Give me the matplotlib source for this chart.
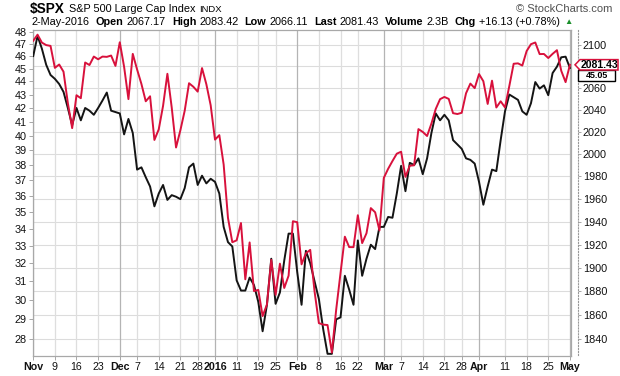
import numpy as np
import pandas as pd
import matplotlib
matplotlib.use("Agg")
import matplotlib.pyplot as plt
from matplotlib.ticker import FixedLocator, FixedFormatter, NullLocator
from matplotlib.transforms import blended_transform_factory, IdentityTransform
from matplotlib.patches import Polygon
from matplotlib.lines import Line2D

plt.rcParams['font.family'] = ['Liberation Sans', 'DejaVu Sans']

# ---------------- data ----------------
holidays = ['2015-11-26', '2015-12-25', '2016-01-01', '2016-01-18', '2016-02-15', '2016-03-25']
dates = pd.bdate_range('2015-11-02', '2016-05-02')
dates = dates[~dates.isin(pd.to_datetime(holidays))]

# $SPX close (red, right axis)
spx = [2104.05, 2109.79, 2102.31, 2099.93, 2099.20, 2078.58, 2081.72, 2075.00, 2045.97, 2023.04,
       2053.19, 2050.44, 2083.58, 2081.24, 2089.17, 2086.59, 2089.14, 2088.87, 2090.11, 2080.41,
       2102.63, 2079.51, 2049.62, 2091.69, 2077.07, 2063.59, 2047.62, 2052.23, 2012.37, 2021.94,
       2043.41, 2073.07, 2041.89, 2005.55, 2021.15, 2038.97, 2064.29, 2060.99, 2056.50, 2078.36,
       2063.36, 2043.94,
       2012.66, 2016.71, 1990.26, 1943.09, 1922.03, 1923.67, 1938.68, 1890.28, 1921.84, 1880.33,
       1881.33, 1859.33, 1868.99, 1906.90, 1877.08, 1903.63, 1882.95, 1893.36, 1940.24,
       1939.38, 1903.03, 1912.53, 1915.45, 1880.05, 1853.44, 1852.21, 1851.86, 1829.08, 1864.78,
       1895.58, 1926.82, 1917.83, 1917.78, 1945.50, 1921.27, 1929.80, 1951.70, 1948.05, 1932.23,
       1978.35, 1986.45, 1993.40, 1999.99, 2001.76, 1979.26, 1989.26, 1989.57, 2022.19, 2019.64,
       2015.93, 2027.22, 2040.59, 2049.58, 2051.60, 2049.80, 2036.71, 2035.94, 2037.05, 2055.01,
       2063.95, 2059.74,
       2072.78, 2066.13, 2045.17, 2066.66, 2041.91, 2047.60, 2041.99, 2061.72, 2082.42, 2082.78,
       2080.73, 2094.34, 2100.80, 2102.40, 2091.48, 2091.58, 2087.79, 2091.70, 2095.15, 2075.81,
       2065.30,
       2081.43]

# comparison series (black, left axis)
black = [46.0, 47.65, 46.6, 45.3, 44.5, 44.2, 43.8, 43.2, 42.0, 40.75,
         42.0, 41.1, 42.0, 41.8, 41.5, 42.0, 42.55, 43.15, 41.8, 41.7,
         41.6, 40.1, 41.2, 40.2, 37.7, 37.85, 37.2, 36.6, 35.35, 36.15,
         36.7, 35.75, 36.05, 35.95, 35.8, 36.5, 37.85, 38.1, 36.7, 37.3,
         36.8, 37.1,
         36.9, 36.15, 34.1, 33.2, 32.95, 31.05, 30.5, 30.5, 31.2, 30.8,
         29.9, 28.4, 29.75, 32.25, 29.8, 30.4, 32.15, 33.7, 33.7,
         31.5, 29.75, 32.7, 32.0, 31.0, 30.05, 28.5, 27.3, 27.3, 29.0,
         29.1, 31.3, 30.55, 29.75, 33.3, 31.3, 32.25, 33.05, 32.8, 34.1,
         34.1, 34.7, 34.65, 36.15, 37.95, 36.3, 38.15, 38.0, 38.45, 37.4,
         38.45, 40.2, 41.6, 41.1, 41.5, 41.1, 39.7, 39.4, 39.1, 38.45,
         38.35, 38.1,
         36.9, 35.45, 36.6, 37.7, 37.6, 39.7, 41.75, 43.0, 42.8, 42.6,
         41.75, 41.5, 42.35, 43.95, 43.45, 43.7, 42.95, 44.65, 45.15, 45.9,
         45.95,
         45.05]

left_ticks = list(range(28, 49))
right_ticks = list(range(1840, 2101, 20))

tick_dates = ['2015-11-02', '2015-11-09', '2015-11-16', '2015-11-23', '2015-12-01', '2015-12-07',
              '2015-12-14', '2015-12-21', '2015-12-28', '2016-01-04', '2016-01-11', '2016-01-19',
              '2016-01-25', '2016-02-01', '2016-02-08', '2016-02-16', '2016-02-22', '2016-03-01',
              '2016-03-07', '2016-03-14', '2016-03-21', '2016-03-28', '2016-04-01', '2016-04-11',
              '2016-04-18', '2016-04-25', '2016-05-02']
tick_labels = ['Nov', '9', '16', '23', 'Dec', '7', '14', '21', '28', '2016', '11', '19', '25',
               'Feb', '8', '16', '22', 'Mar', '7', '14', '21', '28', 'Apr', '11', '18', '25', 'May']
month_labels = ['Nov', 'Dec', '2016', 'Feb', 'Mar', 'Apr', 'May']

symbol = '$SPX'
name = 'S&P 500 Large Cap Index'
exchange = 'INDX'
hdr_date = '2-May-2016'
hdr_open, hdr_high, hdr_low, hdr_last = '2067.17', '2083.42', '2066.11', '2081.43'
hdr_volume = '2.3B'
hdr_chg = '+16.13 (+0.78%)'

# ---------------- figure ----------------
W, H = 620, 376
fig = plt.figure(figsize=(W / 100, H / 100), dpi=100)
fig.patch.set_facecolor('white')


def fx(px):
    return px / W


def fy(py):
    return 1 - py / H


top, bottom, left, right = 29.5, 355.5, 33, 571
ax = fig.add_axes([fx(left), fy(bottom), (right - left) / W, (bottom - top) / H])
ax2 = ax.twinx()

x = np.arange(len(dates))
ax.set_yscale('log')
ax2.set_yscale('log')
ax.set_xlim(-0.05, len(dates) - 1 + 0.25)
ax.set_ylim(27.22, 48.19)
ax2.set_ylim(1826.7, 2114.7)

tick_idx = [int(dates.get_loc(pd.Timestamp(d))) for d in tick_dates]

# grid
gt = blended_transform_factory(ax.transAxes, ax2.transData)
for v in right_ticks:
    ax.add_artist(Line2D([0, 1], [v, v], transform=gt, color='#dcdcdc', lw=0.8, zorder=1))
for i, lab in zip(tick_idx, tick_labels):
    c = '#b4b4b4' if lab in month_labels else '#dedede'
    ax.axvline(i, color=c, lw=0.9, zorder=1)

ax.plot(x, black, color='#141414', lw=1.4, zorder=3)
ax2.plot(x, spx, color='#d8113c', lw=1.4, zorder=3)

# axes styling
for sp in ax.spines.values():
    sp.set_color('#a8a8a8')
    sp.set_linewidth(0.9)
for sp in ax2.spines.values():
    sp.set_visible(False)
ax2.spines['right'].set_visible(True)
ax2.spines['right'].set_position(('outward', 5))
ax2.spines['right'].set_linestyle(':')
ax2.spines['right'].set_color('#999999')
ax2.spines['right'].set_linewidth(0.8)

# right tick labels hidden where the last-value label box covers them
yr_disp = ax2.transData.transform((0, spx[-1]))[1]
right_lab = []
for v in right_ticks:
    yv = ax2.transData.transform((0, v))[1]
    right_lab.append('' if abs(yv - yr_disp) < 9 else str(v))

ax.yaxis.set_major_locator(FixedLocator(left_ticks))
ax.yaxis.set_major_formatter(FixedFormatter([str(v) for v in left_ticks]))
ax.yaxis.set_minor_locator(NullLocator())
ax2.yaxis.set_major_locator(FixedLocator(right_ticks))
ax2.yaxis.set_major_formatter(FixedFormatter(right_lab))
ax2.yaxis.set_minor_locator(NullLocator())

ax.tick_params(axis='y', length=3, width=0.6, color='#999999', pad=1.5, labelsize=7.8, labelcolor='#111111')
ax2.tick_params(axis='y', length=2.5, width=0.6, color='#999999', pad=1, labelsize=7.8, labelcolor='#111111')

ax.set_xticks(tick_idx)
ax.set_xticklabels(tick_labels)
ax.xaxis.set_minor_locator(NullLocator())
ax.tick_params(axis='x', length=3, width=0.6, color='#999999', pad=2, labelsize=7.7, labelcolor='#111111')
for t in ax.get_xticklabels():
    if t.get_text() in month_labels:
        t.set_fontweight('bold')

# ---------------- header ----------------
renderer = fig.canvas.get_renderer()


def seq_text(items, x0, y):
    xx = x0
    for s, size, bold, gap, color in items:
        t = fig.text(fx(xx), fy(y), s, fontsize=size, fontweight='bold' if bold else 'normal',
                     va='center', ha='left', color=color)
        bb = t.get_window_extent(renderer=renderer)
        xx += bb.width + gap


seq_text([('\\' + symbol, 9.8, True, 4, '#000000'),
          (name, 7.8, False, 4, '#000000'),
          (exchange, 6.8, False, 0, '#000000')], 30, 9)

seq_text([(hdr_date, 7.8, False, 7, '#000000'),
          ('Open', 7.8, True, 3, '#000000'), (hdr_open, 7.8, False, 6, '#000000'),
          ('High', 7.8, True, 3, '#000000'), (hdr_high, 7.8, False, 6, '#000000'),
          ('Low', 7.8, True, 3, '#000000'), (hdr_low, 7.8, False, 6, '#000000'),
          ('Last', 7.8, True, 3, '#000000'), (hdr_last, 7.8, False, 6, '#000000'),
          ('Volume', 7.8, True, 3, '#000000'), (hdr_volume, 7.8, False, 6, '#000000'),
          ('Chg', 7.8, True, 3, '#000000'), (hdr_chg, 7.8, False, 5, '#000000'),
          ('\u25b2', 6.0, False, 0, '#1a8f2a')], 31, 22)

fig.text(fx(612), fy(9), '\u00a9 StockCharts.com', fontsize=8.0, ha='right', va='center', color='#505050')

# ---------------- last value labels ----------------
xr, yr = ax2.transData.transform((x[-1], spx[-1]))
yb_lab = yr - 10.5
bx0, bx1 = 578, 615
pts_b = [(bx0, yb_lab - 5.3), (bx1, yb_lab - 5.3), (bx1, yb_lab + 5.3), (bx0, yb_lab + 5.3)]
fig.add_artist(Polygon(pts_b, closed=True, transform=IdentityTransform(), facecolor='white',
                       edgecolor='black', lw=1.0, zorder=5))
fig.text(596.5 / W, (yb_lab - 0.5) / H, f'{black[-1]:.2f}', fontsize=6.5, fontweight='bold', ha='center',
         va='center', color='black', zorder=6)
rx0, rx1 = 580, 618
pts_r = [(575, yr), (rx0, yr + 5.2), (rx1, yr + 5.2), (rx1, yr - 5.2), (rx0, yr - 5.2)]
fig.add_artist(Polygon(pts_r, closed=True, transform=IdentityTransform(), facecolor='white',
                       edgecolor='#d8113c', lw=1.1, zorder=7))
fig.text(599 / W, yr / H, f'{spx[-1]:.2f}', fontsize=7.5, fontweight='bold', ha='center',
         va='center', color='black', zorder=8)

fig.savefig('out.png', dpi=100, facecolor='white')
